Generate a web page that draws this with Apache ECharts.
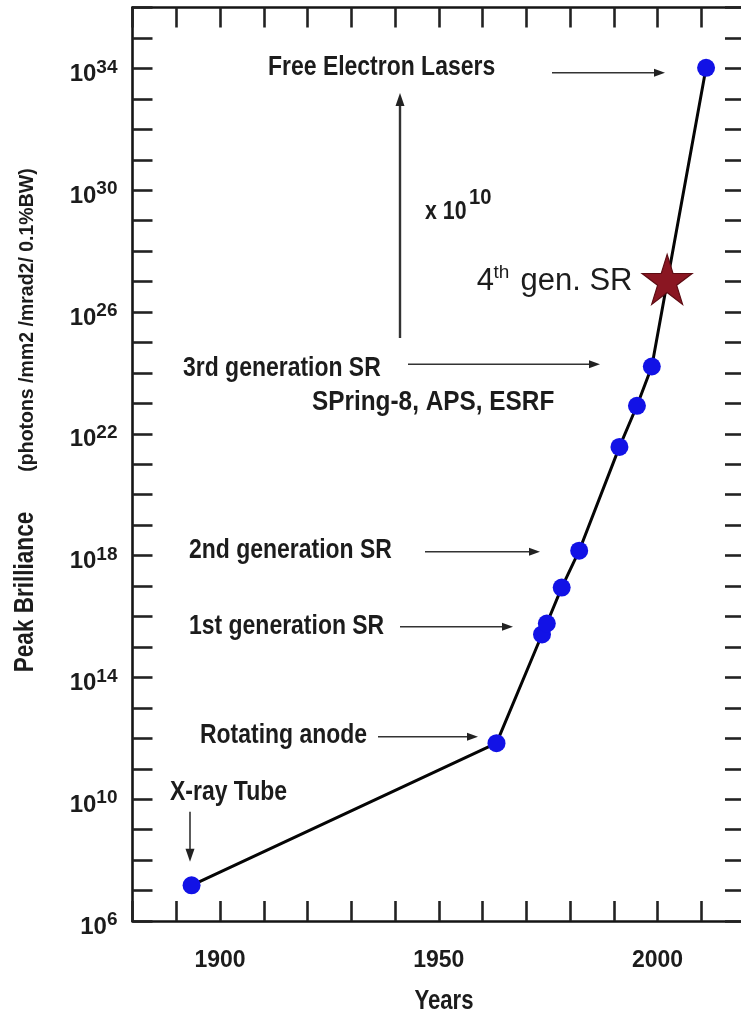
<!DOCTYPE html>
<html><head><meta charset="utf-8">
<script src="https://cdn.jsdelivr.net/npm/echarts@6/dist/echarts.min.js"></script>
<style>html,body{margin:0;padding:0;background:#fff}#c{width:741px;height:1015px}</style>
</head><body><div id="c"></div>
<script>
// ---- data ----
const years = [1893.5, 1963.2, 1973.6, 1974.7, 1978.1, 1982.1, 1991.3, 1995.3, 1998.7, 2011.1];
const log10Brilliance = [7.17, 11.84, 15.41, 15.77, 16.95, 18.16, 21.57, 22.92, 24.21, 34.02];
const star4thGenYear = [2002.2];
const star4thGenLog10 = [27.07];
const xTickLabels = [1900, 1950, 2000];
const yLabelExponents = [6, 10, 14, 18, 22, 26, 30, 34];

const FB = '"Liberation Sans",Arial,sans-serif';
const INK = '#1c1c1c';
const NARROW = 0.82;

const chart = echarts.init(document.getElementById('c'), null, {renderer: 'canvas'});

const axisLineStyle = {color: '#151515', width: 2.6};
const tickStyle = {color: '#222', width: 2.6};

function xAxisCfg(pos, showLabel) {
  return {
    type: 'value', position: pos, min: 1880, max: 2020, interval: 10,
    axisLine: {show: true, onZero: false, lineStyle: axisLineStyle},
    axisTick: {show: true, inside: true, length: 20, lineStyle: tickStyle},
    splitLine: {show: false},
    axisLabel: {
      show: showLabel, margin: 28, color: INK,
      fontFamily: FB, fontWeight: 'bold', fontSize: 23,
      formatter: v => xTickLabels.includes(v) ? String(v) : ''
    }
  };
}
function yAxisCfg(pos, showLabel) {
  return {
    type: 'value', position: pos, min: 6, max: 36, interval: 1,
    axisLine: {show: true, onZero: false, lineStyle: axisLineStyle},
    axisTick: {show: true, inside: true, length: 20, lineStyle: tickStyle},
    splitLine: {show: false},
    axisLabel: {
      show: showLabel, margin: 15, color: INK,
      formatter: v => yLabelExponents.includes(v) ? '{b|10}{s|' + v + '}' : '',
      rich: {
        b: {fontFamily: FB, fontWeight: 'bold', fontSize: 24, lineHeight: 24, padding: [12, 0, 0, 0], color: INK},
        s: {fontFamily: FB, fontWeight: 'bold', fontSize: 19, lineHeight: 19, padding: [1.5, 0, 0, 0], verticalAlign: 'top', color: INK}
      }
    }
  };
}

function txt(t, x, y, font, sx, align, rot) {
  const a = align || 'left';
  return {type: 'text', z: 10, x: x, y: y, scaleX: sx, scaleY: 1, rotation: rot || 0,
    style: {text: t, x: 0, y: 0, font: font, fill: INK,
      align: a, verticalAlign: 'middle', textAlign: a, textVerticalAlign: 'middle'}};
}
function hArrow(x1, x2, y) {
  return [
    {type: 'line', z: 10, shape: {x1: x1, y1: y, x2: x2 - 6, y2: y}, style: {stroke: '#333', lineWidth: 1.6}},
    {type: 'polygon', z: 10, shape: {points: [[x2, y], [x2 - 11, y - 4], [x2 - 11, y + 4]]}, style: {fill: '#222'}}
  ];
}
function vArrow(x, y1, y2, w) {
  const dir = y2 < y1 ? 1 : -1;
  return [
    {type: 'line', z: 10, shape: {x1: x, y1: y1, x2: x, y2: y2 + dir * 6}, style: {stroke: '#333', lineWidth: w}},
    {type: 'polygon', z: 10, shape: {points: [[x, y2], [x - 4.5, y2 + dir * 13], [x + 4.5, y2 + dir * 13]]}, style: {fill: '#222'}}
  ];
}

const B28 = 'bold 28px ' + FB;
const graphics = [
  txt('Free Electron Lasers', 268, 67, B28, NARROW),
  txt('3rd generation SR', 183, 368, B28, NARROW),
  txt('SPring-8, APS, ESRF', 312, 402, B28, 0.87),
  txt('2nd generation SR', 189, 550, B28, NARROW),
  txt('1st generation SR', 189, 626, B28, NARROW),
  txt('Rotating anode', 200, 735, B28, NARROW),
  txt('X-ray Tube', 170, 792, B28, NARROW),
  txt('x 10', 425, 212, 'bold 26px ' + FB, NARROW),
  txt('10', 469, 198, 'bold 22px ' + FB, 0.92),
  txt('4', 476.7, 281, '31px ' + FB, 1),
  txt('th', 493.5, 273, '19px ' + FB, 1),
  txt('gen. SR', 520.5, 281, '31px ' + FB, 1),
  txt('Years', 444, 1002, 'bold 27px ' + FB, NARROW, 'center'),
  txt('Peak Brilliance', 25.5, 592, 'bold 27.5px ' + FB, NARROW, 'center', Math.PI / 2),
  txt('(photons /mm2 /mrad2/ 0.1%BW)', 28, 320, 'bold 19.5px ' + FB, 1, 'center', Math.PI / 2),
  ...hArrow(552, 665, 72.7),
  ...hArrow(408, 600, 364.3),
  ...hArrow(425, 540, 551.7),
  ...hArrow(400, 513, 626.7),
  ...hArrow(378, 478, 736.7),
  ...vArrow(400, 338, 93, 2.4),
  ...vArrow(190, 811.7, 861.7, 1.6)
];

const starPath = 'path://M50,0 L61.2,34.5 L97.6,34.5 L68.2,55.9 L79.4,90.5 L50,69.1 L20.6,90.5 L31.8,55.9 L2.4,34.5 L38.8,34.5 Z';

chart.setOption({
  animation: false,
  backgroundColor: '#fff',
  grid: {left: 132.5, width: 612.5, top: 7.5, height: 913.5, containLabel: false, outerBoundsMode: 'none'},
  xAxis: [xAxisCfg('bottom', true), xAxisCfg('top', false)],
  yAxis: [yAxisCfg('left', true), yAxisCfg('right', false)],
  graphic: graphics,
  series: [
    {
      type: 'line', xAxisIndex: 0, yAxisIndex: 0, z: 3,
      data: years.map((y, i) => [y, log10Brilliance[i]]),
      showAllSymbol: true, symbol: 'circle', symbolSize: 18,
      lineStyle: {color: '#050505', width: 3},
      itemStyle: {color: '#1212e6', opacity: 1},
      emphasis: {disabled: true}
    },
    {
      type: 'scatter', xAxisIndex: 0, yAxisIndex: 0, z: 4,
      data: star4thGenYear.map((y, i) => [y, star4thGenLog10[i]]),
      symbol: starPath, symbolSize: [50, 50],
      itemStyle: {color: '#8a1622', borderColor: '#5c0b12', borderWidth: 1.2, opacity: 1},
      emphasis: {disabled: true}
    }
  ]
});
</script></body></html>
